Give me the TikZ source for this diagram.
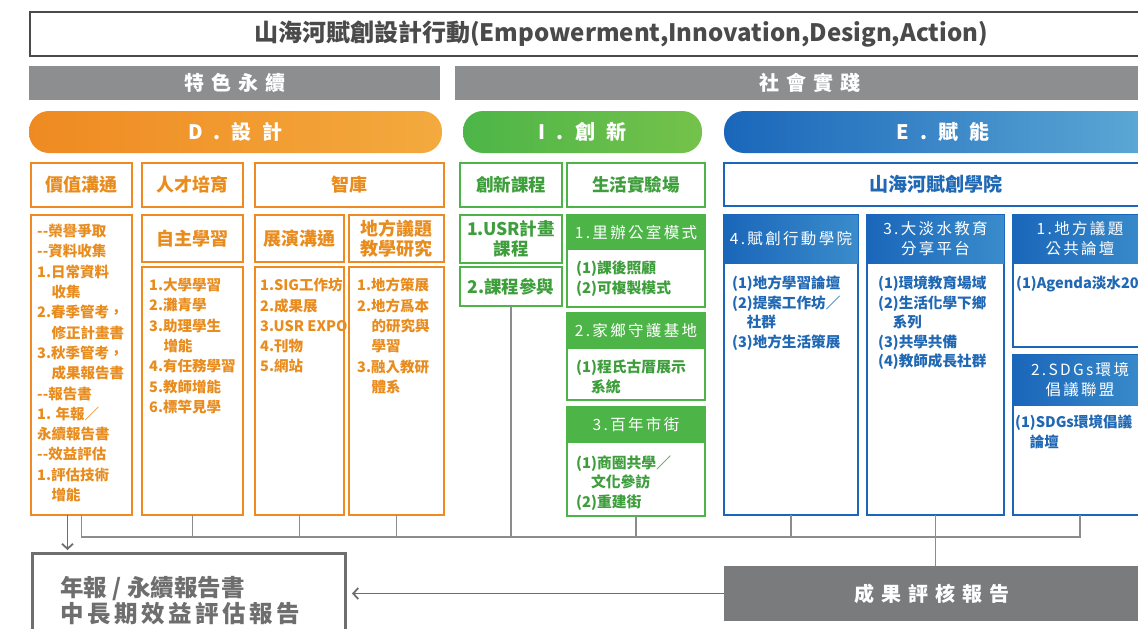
\documentclass[tikz,border=0pt]{standalone}
\usepackage{fontspec}
\setmainfont{Noto Sans CJK TC}
\newfontfamily\trackA{Noto Sans CJK TC}[LetterSpace=15]
\newfontfamily\trackB{Noto Sans CJK TC}[LetterSpace=35]
\newfontfamily\trackC{Noto Sans CJK TC}[LetterSpace=55]
\usetikzlibrary{positioning,arrows.meta}

\definecolor{ocol}{HTML}{EF8A22}
\definecolor{ocollt}{HTML}{F3AA3E}
\definecolor{otxt}{HTML}{E98C1E}
\definecolor{gcol}{HTML}{4DB548}
\definecolor{gcollt}{HTML}{74C24B}
\definecolor{gtxt}{HTML}{3E9E3C}
\definecolor{bcol}{HTML}{1A66BA}
\definecolor{bcolmid}{HTML}{3A8CCB}
\definecolor{bcollt}{HTML}{5EAAD6}
\definecolor{btxt}{HTML}{2068B4}
\definecolor{barg}{HTML}{8D8E90}
\definecolor{darkg}{HTML}{7A7B7D}
\definecolor{lineg}{HTML}{8C8C8C}
\definecolor{titleg}{HTML}{4A4A4A}
\definecolor{repg}{HTML}{6E6E6E}

\newcommand{\indline}{\hspace*{1em}}

\tikzset{
  wh/.style 2 args={minimum width=#1pt, minimum height=#2pt},
  cell/.style={anchor=north west, inner sep=0pt, outer sep=0pt, align=center},
  titlebox/.style={cell, draw=titleg, line width=2pt, text=titleg, font=\fontsize{24}{26}\selectfont\bfseries},
  graybar/.style={cell, fill=barg, text=white, font=\trackB\fontsize{20}{24}\selectfont\bfseries},
  pill/.style={cell, rounded corners=20pt, text=white, font=\trackC\fontsize{20}{24}\selectfont\bfseries},
  ohead/.style={cell, draw=ocol, line width=2.5pt, fill=white, text=otxt, font=\fontsize{18}{20}\selectfont\bfseries},
  obox/.style={cell, draw=ocol, line width=2.5pt, fill=white},
  olist/.style={anchor=north west, inner sep=0pt, align=left, text=otxt, font=\fontsize{14.5}{20.3}\selectfont\bfseries},
  ghead/.style={cell, draw=gcol, line width=2.5pt, fill=white, text=gtxt, font=\fontsize{17.5}{20}\selectfont\bfseries},
  gbox/.style={cell, draw=gcol, line width=2.5pt, fill=white},
  gbar/.style={cell, fill=gcol, text=white, font=\trackA\fontsize{15.5}{19}\selectfont},
  glist/.style={anchor=north west, inner sep=0pt, align=left, text=gtxt, font=\fontsize{14.8}{19.5}\selectfont\bfseries},
  bhead/.style={cell, draw=bcol, line width=2.5pt, fill=white, text=btxt, font=\fontsize{19}{22}\selectfont\bfseries},
  bbox/.style={cell, draw=bcol, line width=2.5pt, fill=white},
  bbar/.style={cell, left color=bcol, right color=bcolmid, text=white, font=\trackA\fontsize{15.5}{20}\selectfont},
  blist/.style={anchor=north west, inner sep=0pt, align=left, text=btxt, font=\fontsize{14.6}{19.5}\selectfont\bfseries},
  link/.style={draw=lineg, line width=1.3pt},
  arrowline/.style={draw=repg, line width=1.8pt},
}

\begin{document}
\begin{tikzpicture}[x=1pt, y=-1pt, >={Straight Barb[length=5pt,width=11pt]}]
\useasboundingbox (0,0) rectangle (1138,629);

% title and the two bars
\node[titlebox, wh={1182}{44}] (title) at (30,12) {山海河賦創設計行動(Empowerment,Innovation,Design,Action)};
\node[graybar, wh={411}{34}] (sustain) at (29,66) {特色永續};
\node[graybar, wh={710}{34}] (practice) at (455,66) {社會實踐};

% D / I / E
\node[pill, left color=ocol, right color=ocollt, wh={413}{42}] (design) at (29,111) {D.設計};
\node[pill, left color=gcol, right color=gcollt, wh={239}{42}] (innov) at (463,111) {I.創新};
\node[pill, left color=bcol, right color=bcollt, wh={438}{42}] (empower) at (724,111) {E.賦能};

% design columns
\node[ohead, wh={101}{44}] (value) at (31,163) {價值溝通};
\node[ohead, wh={101}{44}] (talent) at (142,163) {人才培育};
\node[ohead, wh={189}{44}] (think) at (255,163) {智庫};

\node[obox, wh={101}{300}] (valuelist) at (31,215) {};
\node[olist] (valuetext) at ([shift={(6,9)}]valuelist.north west)
  {-{}-榮譽爭取\\-{}-資料收集\\1.日常資料\\\indline 收集\\2.春季管考，\\\indline 修正計畫書\\3.秋季管考，\\\indline 成果報告書\\-{}-報告書\\1. 年報／\\永續報告書\\-{}-效益評估\\1.評估技術\\\indline 增能};

\node[ohead, wh={101}{47}] (self) at (142,215) {自主學習};
\node[obox, wh={101}{248}] (selflist) at (142,267) {};
\node[olist] (selftext) at ([shift={(7,11)}]selflist.north west)
  {1.大學學習\\2.灘青學\\3.助理學生\\\indline 增能\\4.有任務學習\\5.教師增能\\6.標竿見學};

\node[ohead, wh={89}{47}] (show) at (255,215) {展演溝通};
\node[obox, wh={89}{248}] (showlist) at (255,267) {};
\node[olist] (showtext) at ([shift={(5,11)}]showlist.north west)
  {1.SIG工作坊\\2.成果展\\3.USR EXPO\\4.刊物\\5.網站};

\node[ohead, wh={95}{47}] (local) at (349,215) {地方議題\\教學研究};
\node[obox, wh={95}{248}] (locallist) at (349,267) {};
\node[olist] (localtext) at ([shift={(8,11)}]locallist.north west)
  {1.地方策展\\2.地方爲本\\\indline 的研究與\\\indline 學習\\3.融入教研\\\indline 體系};

% innovation columns
\node[ghead, wh={102}{44}] (course) at (460,163) {創新課程};
\node[ghead, wh={138}{44}] (lab) at (567,163) {生活實驗場};
\node[ghead, wh={102}{48}] (usr) at (460,215) {1.USR計畫\\課程};
\node[ghead, wh={102}{39}] (join) at (460,267) {2.課程參與};

\node[gbox, wh={138}{92}] (office) at (567,215) {};
\node[gbar, wh={138}{35}] (officehead) at (office.north west) {1.里辦公室模式};
\node[glist] (officetext) at ([shift={(9,46)}]office.north west) {(1)課後照顧\\(2)可複製模式};

\node[gbox, wh={138}{87}] (home) at (567,313) {};
\node[gbar, wh={138}{36}] (homehead) at (home.north west) {2.家鄉守護基地};
\node[glist] (hometext) at ([shift={(9,47)}]home.north west) {(1)程氏古厝展示\\\indline 系統};

\node[gbox, wh={138}{109}] (street) at (567,407) {};
\node[gbar, wh={138}{36}] (streethead) at (street.north west) {3.百年市街};
\node[glist] (streettext) at ([shift={(9,48)}]street.north west) {(1)商圈共學／\\\indline 文化參訪\\(2)重建街};

% empowerment columns
\node[bhead, wh={423}{43}] (academy) at (724,163) {山海河賦創學院};

\node[bbox, wh={134}{300}] (act) at (724,215) {};
\node[bbar, wh={134}{48}] (acthead) at (act.north west) {4.賦創行動學院};
\node[blist] (acttext) at ([shift={(8,61)}]act.north west)
  {(1)地方學習論壇\\(2)提案工作坊／\\\indline 社群\\(3)地方生活策展};

\node[bbox, wh={137}{300}] (edu) at (867,215) {};
\node[bbar, wh={137}{48}] (eduhead) at (edu.north west) {3.大淡水教育\\分享平台};
\node[blist] (edutext) at ([shift={(11,61)}]edu.north west)
  {(1)環境教育場域\\(2)生活化學下鄉\\\indline 系列\\(3)共學共備\\(4)教師成長社群};

\node[bbox, wh={134}{132}] (forum) at (1013,215) {};
\node[bbar, wh={134}{48}] (forumhead) at (forum.north west) {1.地方議題\\公共論壇};
\node[blist] (forumtext) at ([shift={(3,61)}]forum.north west) {(1)Agenda淡水20};

\node[bbox, wh={134}{160}] (sdg) at (1013,355) {};
\node[bbar, wh={134}{50}] (sdghead) at (sdg.north west) {2.SDGs環境\\倡議聯盟};
\node[blist] (sdgtext) at ([shift={(2,60)}]sdg.north west) {(1)SDGs環境倡議\\\indline 論壇};

% reports
\node[cell, draw=repg, line width=3pt, fill=white, wh={313}{100}] (report) at (32,553) {};
\node[anchor=north west, inner sep=0pt, align=left, text=repg, font=\fontsize{23.5}{26}\selectfont\bfseries]
  (reporttext) at ([shift={(28,23)}]report.north west) {年報 / 永續報告書\\{\trackA 中長期效益評估報告}};
\node[cell, fill=darkg, text=white, font=\trackB\fontsize{20}{24}\selectfont\bfseries, wh={416}{55}] (result) at (724,566) {成果評核報告};

% connectors
\coordinate (bus) at (0,537);
\draw[link] (valuelist.south) -- (valuelist.south |- bus) -- (sdg.south |- bus) -- (sdg.south);
\foreach \n in {selflist, showlist, locallist, join, street, act, edu}
  \draw[link] (\n.south) -- (\n.south |- bus);
\draw[link] (edu.south |- bus) -- (edu.south |- result.north);
\draw[arrowline, ->, shorten >=3pt] ([xshift=-14pt]valuelist.south) -- ([xshift=-14pt]valuelist.south |- report.north);
\draw[arrowline, ->, shorten >=7pt] (result.west) -- (report.east |- result.west);
\end{tikzpicture}
\end{document}
